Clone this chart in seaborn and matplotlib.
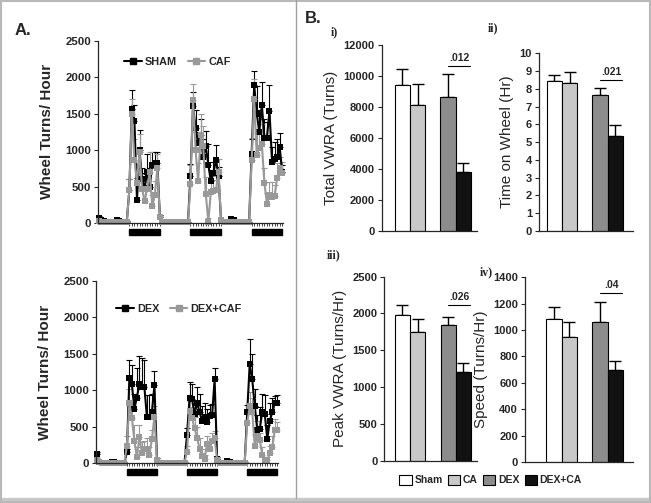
import numpy as np
import pandas as pd
import matplotlib
matplotlib.use('Agg')
import matplotlib.pyplot as plt
from matplotlib.lines import Line2D
from matplotlib.patches import Patch, Rectangle
import matplotlib.transforms as mtransforms
import seaborn as sns

# ---- panel A: hourly wheel turns (hours 0..72) ----
hours = np.arange(73)
dark_phases = [(12, 24), (36, 48), (60, 72)]

sham = [70, 40, 30, 20, 20, 20, 20, 40, 30, 20, 20, 20,
        450, 1570, 1400, 320, 1000, 600, 480, 700, 500, 800, 820, 820, 80,
        20, 10, 10, 10, 10, 10, 10, 10, 10, 10, 10,
        650, 1600, 1300, 1100, 1200, 900, 1050, 800, 570, 680, 870, 650, 30,
        20, 20, 20, 50, 40, 20, 20, 10, 10, 10, 10,
        950, 1890, 1500, 1250, 1620, 1170, 1170, 1540, 840, 880, 900, 1040, 700]
sham_err = [20, 10, 10, 10, 10, 10, 10, 10, 10, 10, 10, 10,
            150, 250, 220, 300, 280, 150, 200, 250, 250, 180, 150, 150, 30,
            10, 10, 10, 10, 10, 10, 10, 10, 10, 10, 10,
            160, 200, 250, 150, 230, 250, 210, 280, 150, 150, 200, 120, 20,
            10, 10, 10, 20, 10, 10, 10, 10, 10, 10, 10,
            200, 200, 380, 300, 320, 250, 220, 350, 200, 230, 250, 200, 100]
caf = [30, 20, 15, 10, 10, 10, 10, 10, 10, 10, 10, 10,
       450, 1500, 870, 550, 970, 470, 300, 470, 700, 230, 380, 750, 80,
       10, 10, 10, 10, 10, 10, 10, 10, 10, 10, 10,
       530, 1680, 1000, 570, 1200, 1050, 400, 20, 430, 440, 450, 700, 40,
       10, 10, 10, 10, 10, 10, 10, 10, 10, 10, 10,
       860, 1700, 930, 1030, 1080, 550, 260, 380, 360, 370, 620, 760, 680]
caf_err = [10, 10, 10, 10, 10, 10, 10, 10, 10, 10, 10, 10,
           160, 200, 280, 250, 250, 200, 150, 250, 280, 150, 200, 200, 20,
           10, 10, 10, 10, 10, 10, 10, 10, 10, 10, 10,
           270, 230, 300, 250, 300, 280, 230, 50, 150, 150, 200, 180, 20,
           10, 10, 10, 10, 10, 10, 10, 10, 10, 10, 10,
           300, 280, 300, 250, 280, 200, 150, 180, 200, 150, 200, 150, 150]
dex = [130, 20, 10, 10, 10, 10, 20, 20, 10, 10, 10, 10,
       150, 1170, 1080, 750, 900, 1090, 1040, 1040, 630, 640, 700, 1070, 50,
       10, 10, 10, 10, 10, 10, 10, 10, 10, 10, 10,
       390, 890, 880, 670, 830, 700, 580, 640, 560, 650, 660, 1150, 60,
       10, 10, 10, 30, 20, 10, 10, 10, 10, 10, 10,
       700, 1360, 1150, 790, 460, 470, 700, 680, 330, 580, 700, 820, 830]
dex_err = [30, 10, 10, 10, 10, 10, 10, 10, 10, 10, 10, 10,
           50, 250, 270, 200, 400, 380, 400, 380, 300, 300, 250, 200, 20,
           10, 10, 10, 10, 10, 10, 10, 10, 10, 10, 10,
           100, 220, 200, 150, 220, 250, 200, 180, 180, 150, 150, 150, 20,
           10, 10, 10, 10, 10, 10, 10, 10, 10, 10, 10,
           100, 340, 350, 230, 200, 300, 250, 250, 200, 250, 200, 100, 100]
dexcaf = [50, 20, 10, 10, 10, 10, 10, 10, 10, 10, 10, 10,
          240, 820, 620, 310, 80, 360, 140, 200, 200, 120, 330, 640, 50,
          10, 10, 10, 10, 10, 10, 10, 10, 10, 10, 10,
          160, 710, 620, 480, 350, 200, 100, 60, 270, 200, 300, 340, 50,
          10, 10, 10, 10, 10, 10, 10, 10, 10, 10, 10,
          550, 780, 700, 240, 380, 320, 120, 30, 40, 140, 220, 460, 460]
dexcaf_err = [20, 10, 10, 10, 10, 10, 10, 10, 10, 10, 10, 10,
              130, 200, 200, 220, 150, 170, 150, 100, 150, 100, 120, 150, 20,
              10, 10, 10, 10, 10, 10, 10, 10, 10, 10, 10,
              80, 150, 150, 150, 150, 150, 100, 50, 100, 100, 120, 100, 20,
              10, 10, 10, 10, 10, 10, 10, 10, 10, 10, 10,
              150, 200, 200, 150, 200, 100, 100, 50, 50, 100, 150, 150, 100]

# ---- panel B: group summaries ----
groups = ['Sham', 'CA', 'DEX', 'DEX+CA']
bar_order = ['Sham', 'CA', ' ', 'DEX', 'DEX+CA']
bar_colors = {'Sham': '#ffffff', 'CA': '#c8c8c8', 'DEX': '#8c8c8c', 'DEX+CA': '#111111'}

total_vwra = [9400, 8150, 8650, 3800]
total_vwra_err = [1050, 1350, 1500, 550]
time_on_wheel = [8.45, 8.3, 7.65, 5.35]
time_on_wheel_err = [0.3, 0.65, 0.4, 0.6]
peak_vwra = [1980, 1750, 1840, 1210]
peak_vwra_err = [140, 170, 110, 120]
speed = [1085, 945, 1065, 700]
speed_err = [90, 120, 150, 65]

sns.set_style('ticks')
plt.rcParams['font.family'] = ['Liberation Sans', 'DejaVu Sans']

GRAY = '#999999'

fig = plt.figure(figsize=(6.51, 5.03), dpi=100)


def time_panel(rect, y1, e1, y2, e2, lab1, lab2, leg_xy):
    ax = fig.add_axes(rect)
    df = pd.DataFrame({'hour': np.concatenate([hours, hours]),
                       'turns': np.concatenate([y1, y2]),
                       'group': [lab1] * len(hours) + [lab2] * len(hours)})
    sns.lineplot(data=df, x='hour', y='turns', hue='group', hue_order=[lab1, lab2],
                 palette={lab1: 'black', lab2: GRAY}, marker='s', markersize=5,
                 markeredgewidth=0, linewidth=1.5, ax=ax, legend=False, clip_on=False)
    ax.errorbar(hours, y1, yerr=[np.zeros(len(hours)), e1], fmt='none', ecolor='black',
                elinewidth=0.8, capsize=2.5, capthick=0.8, zorder=1, clip_on=False)
    ax.errorbar(hours, y2, yerr=[np.zeros(len(hours)), e2], fmt='none', ecolor=GRAY,
                elinewidth=0.8, capsize=2.5, capthick=0.8, zorder=1, clip_on=False)
    ax.set_xlim(-0.3, 72.3)
    ax.set_ylim(0, 2500)
    ax.set_yticks(range(0, 2501, 500))
    dark_ticks = [h for a, b in dark_phases for h in range(a, b + 1)]
    ax.set_xticks(dark_ticks)
    ax.set_xticklabels([])
    ax.tick_params(axis='x', length=2.5, width=0.6, direction='out')
    ax.tick_params(axis='y', length=3, width=0.8, labelsize=8.2, pad=2)
    for t in ax.get_yticklabels():
        t.set_fontweight('bold')
    ax.set_xlabel('')
    ax.set_ylabel('Wheel Turns/ Hour', fontsize=11, fontweight='bold', labelpad=8)
    sns.despine(ax=ax)
    for s in ax.spines.values():
        s.set_linewidth(0.9)
    trans = mtransforms.blended_transform_factory(ax.transData, ax.transAxes)
    for a, b in dark_phases:
        ax.add_patch(Rectangle((a, -0.066), b - a, 0.033, transform=trans,
                               color='black', clip_on=False))
    handles = [Line2D([], [], color='black', marker='s', markersize=5, lw=1.5),
               Line2D([], [], color=GRAY, marker='s', markersize=5, lw=1.5)]
    ax.legend(handles, [lab1, lab2], loc='center', bbox_to_anchor=leg_xy, ncol=2,
              frameon=False, handlelength=1.6, handletextpad=0.3, columnspacing=1.0,
              prop={'weight': 'bold', 'size': 7.8})
    return ax


time_panel([0.1505, 0.5567, 0.2842, 0.3624], sham, sham_err, caf, caf_err,
           'SHAM', 'CAF', (0.43, 0.883))
time_panel([0.1475, 0.0789, 0.2796, 0.3630], dex, dex_err, dexcaf, dexcaf_err,
           'DEX', 'DEX+CAF', (0.456, 0.845))


def bar_panel(rect, vals, errs, ylabel, ymax, ystep, xlim, sig, sig_y, roman, roman_xy):
    ax = fig.add_axes(rect)
    df = pd.DataFrame({'group': groups, 'value': vals})
    sns.barplot(data=df, x='group', y='value', hue='group', order=bar_order,
                hue_order=groups, palette=bar_colors, dodge=False, width=1.0,
                edgecolor='black', linewidth=0.8, legend=False, ax=ax)
    pos = [bar_order.index(g) for g in groups]
    ax.errorbar(pos, vals, yerr=[np.zeros(len(vals)), errs], fmt='none', ecolor='black',
                elinewidth=1.0, capsize=4, capthick=1.0, zorder=0)
    ax.set_xlim(*xlim)
    ax.set_ylim(0, ymax)
    ax.set_yticks(np.arange(0, ymax + ystep / 2, ystep))
    ax.set_xticks([])
    ax.set_xlabel('')
    ax.set_ylabel(ylabel, fontsize=11, labelpad=4)
    ax.tick_params(axis='y', length=3, width=0.8, labelsize=8, pad=2)
    for t in ax.get_yticklabels():
        t.set_fontweight('bold')
    sns.despine(ax=ax)
    for s in ax.spines.values():
        s.set_linewidth(0.9)
    p_dex, p_dexca = bar_order.index('DEX'), bar_order.index('DEX+CA')
    ax.plot([p_dex, p_dexca + 0.45], [sig_y, sig_y], color='black', lw=0.8)
    ax.text((p_dex + p_dexca + 0.45) / 2, sig_y + ymax * 0.015, sig, ha='center',
            va='bottom', fontsize=7.5, fontweight='bold')
    fig.text(roman_xy[0], roman_xy[1], roman, fontsize=8.5, fontweight='bold',
             family=['Liberation Serif', 'DejaVu Serif'], va='center')
    return ax


bar_panel([0.5863, 0.5413, 0.1459, 0.3692], total_vwra, total_vwra_err,
          'Total VWRA (Turns)', 12000, 2000, (-1.35, 4.87), '.012', 10640,
          'i)', (0.508, 0.936))
bar_panel([0.8280, 0.5413, 0.1444, 0.3527], time_on_wheel, time_on_wheel_err,
          'Time on Wheel (Hr)', 10, 1, (-1.0, 5.16), '.021', 8.5,
          'ii)', (0.750, 0.944))
bar_panel([0.5903, 0.0841, 0.1420, 0.3658], peak_vwra, peak_vwra_err,
          'Peak VWRA (Turns/Hr)', 2500, 500, (-1.19, 4.87), '.026', 2115,
          'iii)', (0.502, 0.493))
bar_panel([0.8065, 0.0815, 0.1659, 0.3672], speed, speed_err,
          'Speed (Turns/Hr)', 1400, 200, (-1.9, 5.16), '.04', 1283,
          'iv)', (0.737, 0.459))

legend_handles = [Patch(facecolor=bar_colors[g], edgecolor='black', linewidth=0.8) for g in groups]
fig.legend(legend_handles, groups, loc='center', bbox_to_anchor=(0.7535, 0.0457), ncol=4,
           frameon=False, handlelength=1.2, handleheight=1.2, handletextpad=0.25,
           columnspacing=0.5, prop={'weight': 'bold', 'size': 7.5})

# panel letters and frame
fig.text(0.023, 0.94, 'A.', fontsize=12, fontweight='bold', va='center')
fig.text(0.468, 0.964, 'B.', fontsize=12, fontweight='bold', va='center')
fig.add_artist(Line2D([296 / 651, 296 / 651], [0.01, 1], color='#a0a0a0', lw=1))
fig.add_artist(Rectangle((0, 0), 1, 5 / 503, color='#c8c8c8', transform=fig.transFigure))
fig.add_artist(Rectangle((0.001, 0.001), 0.998, 0.998, fill=False, edgecolor='#b8b8b8',
                         lw=1.5, transform=fig.transFigure))

fig.savefig('out.png', dpi=100)
